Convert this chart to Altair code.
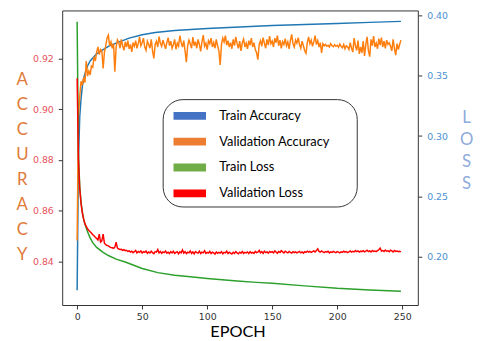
import altair as alt
import pandas as pd

# ---- data ----
train_acc_epoch = [0, 1, 2, 3, 4, 5, 6, 8, 10, 15, 20, 25, 30, 40, 50, 60, 75, 100, 125, 150, 175, 200, 225, 249]
train_acc = [0.8286, 0.880, 0.897, 0.904, 0.909, 0.912, 0.914, 0.917, 0.919, 0.9218, 0.9235, 0.925, 0.926,
             0.928, 0.9293, 0.9302, 0.931, 0.9318, 0.9324, 0.933, 0.9334, 0.9338, 0.9342, 0.9346]

val_acc = [
    0.8482, 0.8970, 0.9050, 0.9110, 0.9095, 0.9125, 0.9105, 0.9190, 0.9130, 0.9150,
    0.9135, 0.9170, 0.9165, 0.9207, 0.9190, 0.9225, 0.9245, 0.9215, 0.9235, 0.9230,
    0.9160, 0.9225, 0.9250, 0.9280, 0.9292, 0.9250, 0.9265, 0.9240, 0.9258, 0.9148,
    0.9245, 0.9273, 0.9262, 0.9240, 0.9275, 0.9250, 0.9232, 0.9265, 0.9245, 0.9270,
    0.9238, 0.9255, 0.9226, 0.9262, 0.9248, 0.9270, 0.9240, 0.9258, 0.9285, 0.9250,
    0.9262, 0.9280, 0.9245, 0.9232, 0.9268, 0.9255, 0.9240, 0.9275, 0.9230, 0.9200,
    0.9255, 0.9268, 0.9245, 0.9286, 0.9260, 0.9248, 0.9272, 0.9255, 0.9238, 0.9262,
    0.9282, 0.9250, 0.9268, 0.9240, 0.9255, 0.9275, 0.9236, 0.9260, 0.9248, 0.9290,
    0.9262, 0.9245, 0.9270, 0.9230, 0.9185, 0.9250, 0.9272, 0.9258, 0.9240, 0.9284,
    0.9250, 0.9266, 0.9240, 0.9275, 0.9255, 0.9228, 0.9265, 0.9292, 0.9248, 0.9260,
    0.9235, 0.9270, 0.9258, 0.9280, 0.9245, 0.9262, 0.9240, 0.9275, 0.9250, 0.9230,
    0.9174, 0.9255, 0.9280, 0.9265, 0.9290, 0.9252, 0.9270, 0.9245, 0.9262, 0.9238,
    0.9275, 0.9250, 0.9285, 0.9258, 0.9240, 0.9268, 0.9230, 0.9262, 0.9276, 0.9245,
    0.9260, 0.9238, 0.9270, 0.9252, 0.9280, 0.9245, 0.9262, 0.9235, 0.9222, 0.9195,
    0.9255, 0.9270, 0.9248, 0.9282, 0.9260, 0.9240, 0.9275, 0.9252, 0.9288, 0.9258,
    0.9268, 0.9245, 0.9280, 0.9262, 0.9290, 0.9250, 0.9272, 0.9240, 0.9266, 0.9255,
    0.9278, 0.9250, 0.9265, 0.9238, 0.9270, 0.9295, 0.9258, 0.9245, 0.9272, 0.9260,
    0.9282, 0.9255, 0.9240, 0.9268, 0.9250, 0.9230, 0.9220, 0.9262, 0.9285, 0.9258,
    0.9272, 0.9248, 0.9265, 0.9290, 0.9255, 0.9270, 0.9245, 0.9262, 0.9222, 0.9258,
    0.9250, 0.9255, 0.9248, 0.9252, 0.9245, 0.9258, 0.9250, 0.9246, 0.9254, 0.9248,
    0.9252, 0.9244, 0.9256, 0.9248, 0.9242, 0.9255, 0.9238, 0.9250, 0.9245, 0.9235,
    0.9262, 0.9240, 0.9225, 0.9280, 0.9250, 0.9232, 0.9270, 0.9218, 0.9245, 0.9222,
    0.9268, 0.9210, 0.9255, 0.9285, 0.9230, 0.9207, 0.9275, 0.9250, 0.9288, 0.9245,
    0.9260, 0.9238, 0.9278, 0.9252, 0.9282, 0.9245, 0.9268, 0.9240, 0.9272, 0.9255,
    0.9262, 0.9248, 0.9230, 0.9275, 0.9240, 0.9213, 0.9258, 0.9235, 0.9255, 0.9272,
]

train_loss_epoch = [0, 1, 2, 3, 4, 5, 6, 8, 10, 12, 15, 20, 24, 30, 37, 50, 62, 75, 87, 100, 123, 138, 150, 175, 200, 225, 249]
train_loss = [0.395, 0.285, 0.258, 0.245, 0.237, 0.231, 0.227, 0.2205, 0.2155, 0.2115, 0.2075, 0.2035, 0.2008,
              0.1978, 0.1954, 0.1900, 0.1866, 0.1845, 0.1832, 0.1818, 0.1796, 0.1785, 0.1777, 0.1756, 0.1736,
              0.1722, 0.1712]

val_loss = [
    0.3480, 0.2800, 0.2560, 0.2440, 0.2360, 0.2310, 0.2270, 0.2250, 0.2230, 0.2215,
    0.2205, 0.2195, 0.2180, 0.2172, 0.2160, 0.2150, 0.2138, 0.2186, 0.2120, 0.2130,
    0.2186, 0.2110, 0.2098, 0.2092, 0.2088, 0.2080, 0.2075, 0.2072, 0.2068, 0.2078,
    0.2118, 0.2070, 0.2062, 0.2058, 0.2060, 0.2050, 0.2056, 0.2048, 0.2052, 0.2042,
    0.2046, 0.2036, 0.2044, 0.2032, 0.2040, 0.2050, 0.2030, 0.2042, 0.2035, 0.2046,
    0.2028, 0.2040, 0.2034, 0.2045, 0.2026, 0.2038, 0.2030, 0.2044, 0.2032, 0.2024,
    0.2040, 0.2036, 0.2058, 0.2030, 0.2042, 0.2026, 0.2038, 0.2032, 0.2045, 0.2028,
    0.2036, 0.2024, 0.2040, 0.2030, 0.2044, 0.2026, 0.2034, 0.2040, 0.2022, 0.2038,
    0.2030, 0.2054, 0.2028, 0.2040, 0.2024, 0.2036, 0.2030, 0.2046, 0.2026, 0.2038,
    0.2022, 0.2040, 0.2032, 0.2028, 0.2044, 0.2024, 0.2036, 0.2030, 0.2048, 0.2026,
    0.2034, 0.2028, 0.2042, 0.2024, 0.2036, 0.2030, 0.2020, 0.2038, 0.2026, 0.2034,
    0.2028, 0.2040, 0.2022, 0.2034, 0.2030, 0.2044, 0.2024, 0.2036, 0.2028, 0.2020,
    0.2034, 0.2026, 0.2040, 0.2030, 0.2022, 0.2036, 0.2028, 0.2042, 0.2026, 0.2034,
    0.2030, 0.2038, 0.2024, 0.2040, 0.2028, 0.2034, 0.2026, 0.2042, 0.2032, 0.2036,
    0.2050, 0.2030, 0.2040, 0.2026, 0.2044, 0.2032, 0.2038, 0.2028, 0.2042, 0.2034,
    0.2040, 0.2030, 0.2046, 0.2036, 0.2028, 0.2042, 0.2034, 0.2048, 0.2038, 0.2030,
    0.2044, 0.2036, 0.2030, 0.2042, 0.2034, 0.2028, 0.2040, 0.2032, 0.2038, 0.2030,
    0.2036, 0.2042, 0.2030, 0.2038, 0.2028, 0.2040, 0.2034, 0.2044, 0.2036, 0.2042,
    0.2034, 0.2040, 0.2046, 0.2038, 0.2050, 0.2063, 0.2042, 0.2036, 0.2046, 0.2038,
    0.2032, 0.2040, 0.2036, 0.2044, 0.2030, 0.2038, 0.2034, 0.2042, 0.2036, 0.2032,
    0.2040, 0.2036, 0.2030, 0.2038, 0.2034, 0.2044, 0.2036, 0.2040, 0.2032, 0.2038,
    0.2046, 0.2036, 0.2042, 0.2038, 0.2050, 0.2040, 0.2046, 0.2036, 0.2044, 0.2040,
    0.2048, 0.2038, 0.2044, 0.2052, 0.2040, 0.2046, 0.2038, 0.2050, 0.2042, 0.2046,
    0.2040, 0.2048, 0.2056, 0.2070, 0.2046, 0.2050, 0.2042, 0.2054, 0.2044, 0.2048,
    0.2040, 0.2052, 0.2046, 0.2038, 0.2050, 0.2042, 0.2046, 0.2040, 0.2044, 0.2038,
]

series_names = ["Train Accuracy", "Validation Accuracy", "Train Loss", "Validation Loss"]
legend_colors = ["#4472C4", "#ED7D31", "#70AD47", "#FF0000"]
line_colors = ["#1f77b4", "#ff7f0e", "#2ca02c", "#ff0000"]

x_ticks = [0, 50, 100, 150, 200, 250]
acc_ticks = [0.84, 0.86, 0.88, 0.90, 0.92]
loss_ticks = [0.20, 0.25, 0.30, 0.35, 0.40]

# ---- tables ----
df_tacc = pd.DataFrame({"epoch": train_acc_epoch, "value": train_acc})
df_vacc = pd.DataFrame({"epoch": list(range(len(val_acc))), "value": val_acc})
df_tloss = pd.DataFrame({"epoch": train_loss_epoch, "value": train_loss})
df_vloss = pd.DataFrame({"epoch": list(range(len(val_loss))), "value": val_loss})
df_leg = pd.DataFrame({"epoch": [0] * 4, "value": [0.88] * 4, "series": series_names})

FONT = "DejaVu Sans"

def xenc():
    return alt.X("epoch:Q",
                 scale=alt.Scale(domain=[-11.5, 262], nice=False, zero=False),
                 axis=alt.Axis(values=x_ticks, title="EPOCH", titleFont="Lato", titleFontSize=16.5,
                               titleFontWeight="normal", titleColor="black", titleX=178, titleY=32,
                               titleBaseline="alphabetic", labelFont=FONT, labelFontSize=9.5,
                               labelColor="#333", tickColor="#333", tickSize=4, labelPadding=3,
                               domain=False, grid=False))

acc_axis = alt.Axis(values=acc_ticks, format=".2f", title=list("ACCURACY"), titleAngle=0,
                    titleFont="Lato", titleFontSize=17, titleFontWeight="normal", titleColor="#E07B39",
                    titleLineHeight=25.4, titleX=-41, titleY=62, titleAlign="center", titleBaseline="top",
                    labelFont=FONT, labelFontSize=9.5, labelColor="#E5525B", tickColor="#333",
                    tickSize=4, labelPadding=5, domain=False, grid=False)
loss_axis = alt.Axis(values=loss_ticks, format=".2f", orient="right", title=list("LOSS"), titleAngle=0,
                     titleFont="Lato", titleFontSize=17, titleFontWeight="normal", titleColor="#8FAADC",
                     titleLineHeight=22.4, titleX=49, titleY=101, titleAlign="center", titleBaseline="top",
                     labelFont=FONT, labelFontSize=9.5, labelColor="#4A90D0", tickColor="#333",
                     tickSize=4, labelPadding=5, domain=False, grid=False)

acc_scale = alt.Scale(domain=[0.8228, 0.9389], nice=False, zero=False)
loss_scale = alt.Scale(domain=[0.1597, 0.4043], nice=False, zero=False)

def acc_line(df, color):
    return alt.Chart(df).mark_line(color=color, strokeWidth=1.5).encode(
        x=xenc(), y=alt.Y("value:Q", scale=acc_scale, axis=acc_axis))

def loss_line(df, color):
    return alt.Chart(df).mark_line(color=color, strokeWidth=1.5).encode(
        x=xenc(), y=alt.Y("value:Q", scale=loss_scale, axis=loss_axis))

legend_layer = alt.Chart(df_leg).mark_point(opacity=0, filled=True).encode(
    x=xenc(),
    y=alt.Y("value:Q", scale=acc_scale, axis=acc_axis),
    fill=alt.Fill("series:N",
                  scale=alt.Scale(domain=series_names, range=legend_colors),
                  legend=alt.Legend(orient="none", legendX=102, legendY=90,
                                    title="\u2003", titleOrient="right", titlePadding=21,
                                    symbolType="M-1.5,-0.36H1.5V0.36H-1.5Z", symbolSize=484,
                                    symbolOffset=10.5, labelOffset=19, padding=6, rowPadding=8.2,
                                    symbolOpacity=1, symbolStrokeWidth=0,
                                    strokeColor="#333", fillColor="white", cornerRadius=20,
                                    labelFont="Lato", labelFontSize=13, labelColor="black",
                                    labelLimit=300)))

acc_layer = alt.layer(acc_line(df_tacc, line_colors[0]), acc_line(df_vacc, line_colors[1]), legend_layer)
loss_layer = alt.layer(loss_line(df_tloss, line_colors[2]), loss_line(df_vloss, line_colors[3]))

chart = alt.layer(acc_layer, loss_layer).resolve_scale(y="independent").properties(
    width=361, height=299,
    autosize=alt.AutoSizeParams(type="none"),
    padding={"left": 55, "top": 0, "right": 56, "bottom": 32},
    background="white",
).configure_view(stroke="#333", strokeWidth=1)

chart.save("out.html", embed_options={"renderer": "svg", "actions": False})
